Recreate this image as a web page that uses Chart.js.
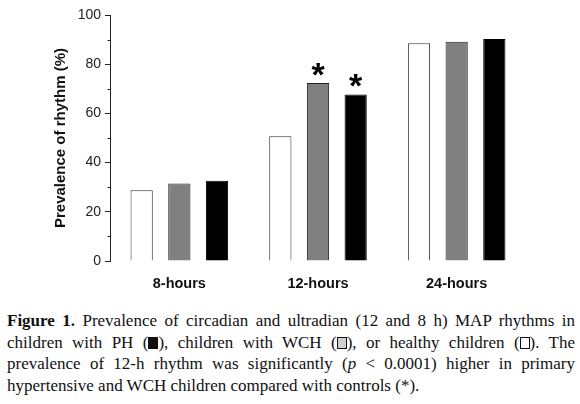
<!DOCTYPE html>
<html>
<head>
<meta charset="utf-8">
<script src="https://cdn.jsdelivr.net/npm/chart.js@4/dist/chart.umd.min.js"></script>
<style>
  html, body { margin: 0; padding: 0; background: #fff; }
  body { width: 580px; height: 404px; overflow: hidden; }
  #wrap { position: relative; width: 580px; height: 300px; }
  #cap {
    position: absolute; left: 7px; top: 310px; width: 568px;
    font-family: "Liberation Serif", "Times New Roman", serif;
    font-size: 17px; line-height: 21.5px; color: #111;
    text-align: justify; text-align-last: left;
  }
  .sq { display: inline-block; width: 10px; height: 12px; vertical-align: -1px; box-sizing: border-box; border: 1.2px solid #111; }
</style>
</head>
<body>
<div id="wrap"><canvas id="c" width="580" height="300"></canvas></div>
<div id="cap"><b>Figure 1.</b> Prevalence of circadian and ultradian (12 and 8 h) MAP rhythms in children with PH (<span class="sq" style="background:#111"></span>), children with WCH (<span class="sq" style="background:#d0d0d0"></span>), or healthy children (<span class="sq" style="background:#fff"></span>). The prevalence of 12-h rhythm was significantly (<i>p</i> &lt; 0.0001) higher in primary hypertensive and WCH children compared with controls (*).</div>
<script>
const categories = ['8-hours', '12-hours', '24-hours'];
const healthy = [28.8, 50.7, 88.5];
const wch = [31.5, 72.4, 89.1];
const ph = [32.6, 67.7, 90.2];
const significant = { wch: [false, true, false], ph: [false, true, false] };
const yTicks = [0, 20, 40, 60, 80, 100];

const starPlugin = {
  id: 'stars',
  afterDatasetsDraw(chart) {
    const ctx = chart.ctx;
    ctx.save();
    ctx.fillStyle = '#000';
    ctx.font = 'bold 34px "Liberation Sans", Arial, sans-serif';
    ctx.textAlign = 'center';
    ctx.textBaseline = 'alphabetic';
    [[1, significant.wch], [2, significant.ph]].forEach(([di, flags]) => {
      const meta = chart.getDatasetMeta(di);
      meta.data.forEach((bar, i) => {
        if (flags[i]) ctx.fillText('*', bar.x, bar.y + 3);
      });
    });
    ctx.restore();
  }
};

const minorTicks = {
  id: 'minorTicks',
  afterDraw(chart) {
    const s = chart.scales.y;
    const ctx = chart.ctx;
    ctx.save();
    ctx.strokeStyle = '#222';
    ctx.lineWidth = 1;
    for (let v = 10; v < 100; v += 20) {
      const y = Math.round(s.getPixelForValue(v)) + 0.5;
      ctx.beginPath();
      ctx.moveTo(s.right - 2.5, y);
      ctx.lineTo(s.right, y);
      ctx.stroke();
    }
    ctx.restore();
  }
};

new Chart(document.getElementById('c'), {
  type: 'bar',
  data: {
    labels: categories,
    datasets: [
      { label: 'Healthy', data: healthy, backgroundColor: '#ffffff', borderColor: '#333', borderWidth: 1 },
      { label: 'WCH', data: wch, backgroundColor: '#808080', borderColor: '#222', borderWidth: 1 },
      { label: 'PH', data: ph, backgroundColor: '#000000', borderColor: '#000', borderWidth: 1 }
    ]
  },
  options: {
    responsive: false,
    animation: false,
    events: [],
    layout: { padding: { left: 52, right: 54, top: 15, bottom: 0 } },
    categoryPercentage: 0.815,
    barPercentage: 0.59,
    plugins: { legend: { display: false }, tooltip: { enabled: false } },
    scales: {
      x: {
        grid: { display: false, drawTicks: false },
        border: { display: false },
        ticks: { color: '#111', font: { family: '"Liberation Sans", Arial, sans-serif', size: 14.5, weight: 'bold' }, padding: 14 },
        afterFit(s) { s.height = 39; }
      },
      y: {
        min: 0, max: 100,
        afterBuildTicks(s) { s.ticks = yTicks.map(v => ({ value: v })); },
        grid: { drawOnChartArea: false, drawTicks: true, tickLength: 5, color: '#222' },
        border: { display: true, color: '#222', width: 1 },
        ticks: { color: '#222', font: { family: '"Liberation Sans", Arial, sans-serif', size: 14 }, padding: 4 },
        title: { display: true, text: 'Prevalence of rhythm (%)', color: '#111', font: { family: '"Liberation Sans", Arial, sans-serif', size: 15, weight: 'bold' }, padding: { top: 0, bottom: 4 } },
        afterFit(s) { s.width = 58; }
      }
    }
  },
  plugins: [starPlugin, minorTicks]
});
</script>
</body>
</html>
